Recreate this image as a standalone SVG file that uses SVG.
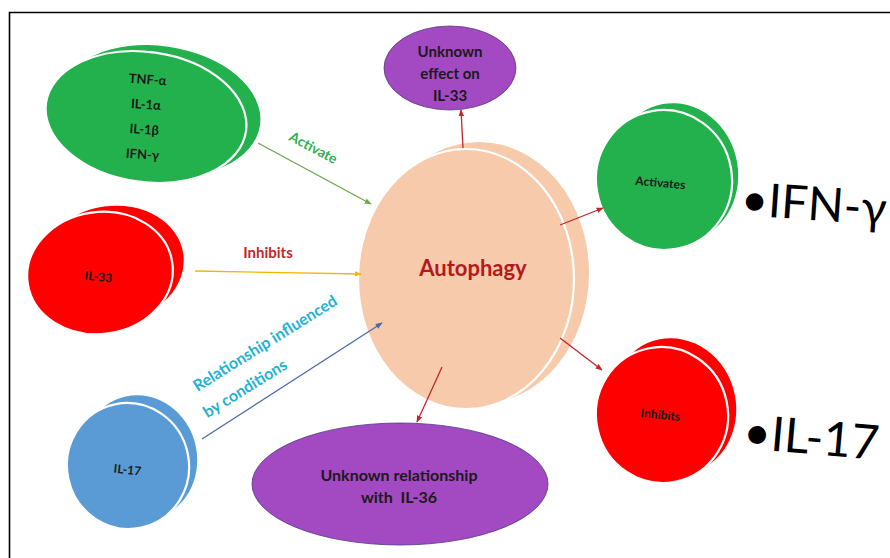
<svg xmlns="http://www.w3.org/2000/svg" width="890" height="558" viewBox="0 0 890 558">
<defs>
<style>
.lbl{font-family:Lato,"Open Sans","Liberation Sans",sans-serif;font-weight:700;text-anchor:middle;fill:#1a1a1a;white-space:pre}
.edge{fill:none;stroke-width:1.3}
.front{stroke:#ffffff;stroke-width:2.2}
.big{font-family:Lato,"Liberation Sans",sans-serif;font-weight:400;fill:#000}
.elbl{font-family:Lato,"Open Sans","Liberation Sans",sans-serif;font-weight:700;text-anchor:middle}
</style>
<marker id="mG" viewBox="0 0 10 10" refX="9" refY="5" markerWidth="7" markerHeight="7" orient="auto" markerUnits="userSpaceOnUse"><path d="M0,1 L10,5 L0,9 z" fill="#6aa84f"/></marker>
<marker id="mY" viewBox="0 0 10 10" refX="9" refY="5" markerWidth="7" markerHeight="7" orient="auto" markerUnits="userSpaceOnUse"><path d="M0,1 L10,5 L0,9 z" fill="#f2b705"/></marker>
<marker id="mB" viewBox="0 0 10 10" refX="9" refY="5" markerWidth="7" markerHeight="7" orient="auto" markerUnits="userSpaceOnUse"><path d="M0,1 L10,5 L0,9 z" fill="#4a6aab"/></marker>
<marker id="mR" viewBox="0 0 10 10" refX="9" refY="5" markerWidth="7" markerHeight="7" orient="auto" markerUnits="userSpaceOnUse"><path d="M0,1 L10,5 L0,9 z" fill="#c0282a"/></marker>
</defs>
<rect x="0" y="0" width="890" height="558" fill="#ffffff"/>
<path d="M9.5,558 L9.5,12.5 L890,12.5" fill="none" stroke="#000" stroke-width="1.6"/>

<g id="autophagy">
<ellipse cx="479" cy="273" rx="110" ry="131" fill="#f7caab"/>
<ellipse class="front" cx="466" cy="279" rx="108" ry="130" fill="#f7caab"/>
<text x="473" y="276" font-size="22" font-family="Lato,'Open Sans','Liberation Sans',sans-serif" font-weight="700" text-anchor="middle" fill="#b3191c">Autophagy</text>
</g>

<g id="tnf">
<ellipse cx="159" cy="111" rx="102" ry="65" fill="#22b14c" transform="rotate(8 159 111)"/>
<ellipse class="front" cx="146" cy="117" rx="101" ry="65" fill="#22b14c" transform="rotate(8 146 117)"/>
<g transform="rotate(4 145 118)">
<text class="lbl" x="145" y="84" font-size="13">TNF-α</text>
<text class="lbl" x="145" y="109" font-size="13">IL-1α</text>
<text class="lbl" x="145" y="134" font-size="13">IL-1β</text>
<text class="lbl" x="145" y="159" font-size="13">IFN-γ</text>
</g>
</g>

<g id="il33-effect">
<ellipse cx="450" cy="68" rx="66" ry="42" fill="#a349c2" stroke="#5a3a7a" stroke-width="0.8"/>
<text class="lbl" x="450" y="57" font-size="15">Unknown</text>
<text class="lbl" x="450" y="79" font-size="15">effect on</text>
<text class="lbl" x="450" y="101" font-size="15">IL-33</text>
</g>

<g id="activates">
<ellipse cx="675" cy="173" rx="63" ry="70" fill="#22b14c" transform="rotate(-10 675 173)"/>
<ellipse class="front" cx="664" cy="180" rx="68" ry="70" fill="#22b14c" transform="rotate(-10 664 180)"/>
<text class="lbl" x="660" y="187" font-size="12" transform="rotate(5 660 187)">Activates</text>
<text class="big" x="740" y="215" font-size="47" transform="rotate(4 740 215)">•IFN-γ</text>
</g>

<g id="il33">
<ellipse cx="112" cy="264" rx="72" ry="58" fill="#ff0000" transform="rotate(-8 112 264)"/>
<ellipse class="front" cx="100" cy="273" rx="73" ry="61" fill="#ff0000" transform="rotate(-8 100 273)"/>
<text class="lbl" x="98" y="281" font-size="12" transform="rotate(6 98 281)">IL-33</text>
</g>

<g id="il17">
<ellipse cx="139" cy="458" rx="58" ry="63" fill="#5b9bd5" transform="rotate(-12 139 458)"/>
<ellipse class="front" cx="128" cy="466" rx="61" ry="63" fill="#5b9bd5" transform="rotate(-12 128 466)"/>
<text class="lbl" x="127" y="474" font-size="12" transform="rotate(6 127 474)">IL-17</text>
</g>

<g id="il36">
<ellipse cx="400" cy="484" rx="148" ry="61" fill="#a349c2" stroke="#4b3a8a" stroke-width="0.8"/>
<text class="lbl" x="399" y="481" font-size="16">Unknown relationship</text>
<text class="lbl" x="399" y="503" font-size="16" xml:space="preserve">with  IL-36</text>
</g>

<g id="inhibits">
<ellipse cx="673" cy="407" rx="63" ry="69" fill="#ff0000" transform="rotate(-12 673 407)"/>
<ellipse class="front" cx="662" cy="415" rx="66" ry="68" fill="#ff0000" transform="rotate(-12 662 415)"/>
<text class="lbl" x="660" y="419" font-size="12" transform="rotate(6 660 419)">Inhibits</text>
<text class="big" x="742" y="448" font-size="48" transform="rotate(5 742 448)">•IL-17</text>
</g>

<g id="connectors">
<line class="edge" x1="258" y1="143" x2="371" y2="204" stroke="#6aa84f" marker-end="url(#mG)"/>
<line class="edge" x1="195" y1="271" x2="361" y2="274" stroke="#f2b705" marker-end="url(#mY)"/>
<line class="edge" x1="202" y1="439" x2="382" y2="323" stroke="#4a6aab" marker-end="url(#mB)"/>
<line class="edge" x1="463" y1="148" x2="461" y2="110" stroke="#c0282a" marker-end="url(#mR)"/>
<line class="edge" x1="560" y1="225" x2="603" y2="208" stroke="#c0282a" marker-end="url(#mR)"/>
<line class="edge" x1="560" y1="338" x2="602" y2="370" stroke="#c0282a" marker-end="url(#mR)"/>
<line class="edge" x1="442" y1="367" x2="417" y2="422" stroke="#c0282a" marker-end="url(#mR)"/>
<text class="elbl" x="311" y="152" font-size="14" fill="#2db14e" transform="rotate(28 311 152)">Activate</text>
<text class="elbl" x="268" y="258" font-size="15" fill="#c0282a">Inhibits</text>
<text class="elbl" x="268" y="348" font-size="16" fill="#1fb2d3" transform="rotate(-32 268 348)">Relationship influenced</text>
<text class="elbl" x="248" y="393" font-size="16" fill="#1fb2d3" transform="rotate(-32 248 393)">by conditions</text>
</g>
</svg>
